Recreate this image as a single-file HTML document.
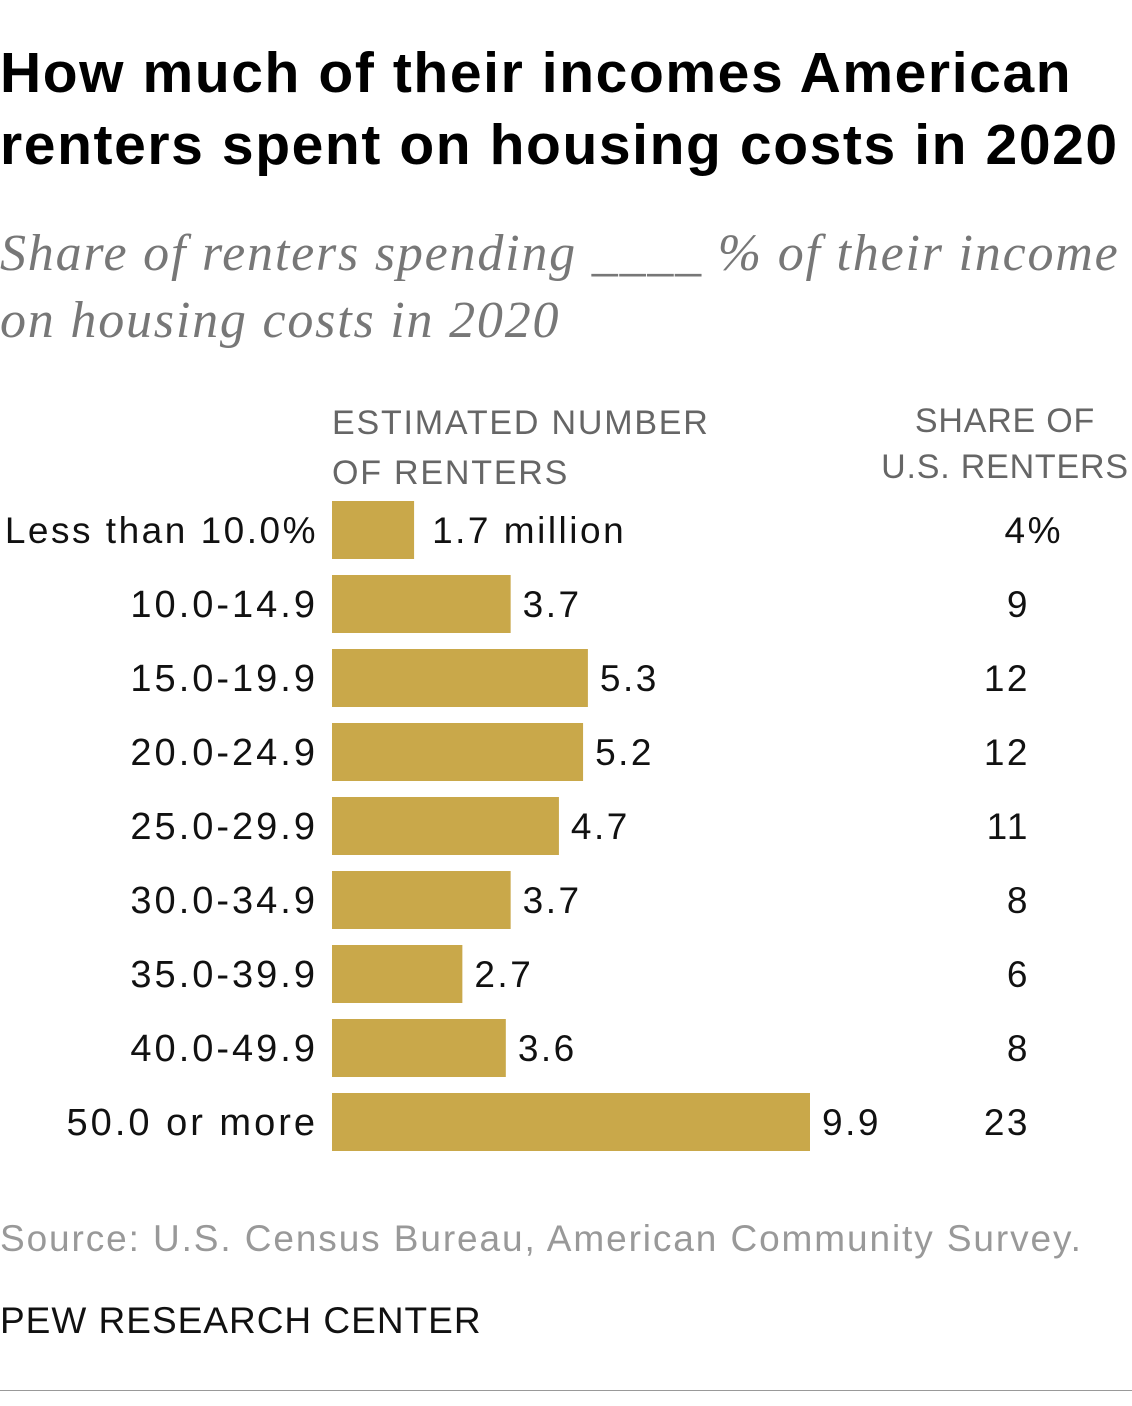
<!DOCTYPE html>
<html><head><meta charset="utf-8">
<style>
html,body{margin:0;padding:0;background:#fff;}
body{width:1132px;height:1406px;position:relative;overflow:hidden;font-family:"Liberation Sans",sans-serif;}
.t{position:absolute;white-space:nowrap;}
</style></head><body>
<div class="t" style="left:0;top:37px;font-size:57px;font-weight:bold;line-height:72px;color:#000;letter-spacing:1.6px;">How much of their incomes American<br>renters spent on housing costs in 2020</div>
<div class="t" style="left:0;top:220px;font-family:'Liberation Serif',serif;font-style:italic;font-size:52px;line-height:67px;color:#777;letter-spacing:1.8px;">Share of renters spending ____ % of their income<br>on housing costs in 2020</div>
<div class="t" style="left:332px;top:398px;font-size:34px;line-height:50px;color:#666;letter-spacing:1.8px;">ESTIMATED NUMBER<br>OF RENTERS</div>
<div class="t" style="left:880px;width:250px;top:398px;font-size:34px;line-height:46px;color:#666;text-align:center;letter-spacing:0.8px;">SHARE OF<br>U.S. RENTERS</div>
<svg id="chart" width="1132" height="1406" style="position:absolute;left:0;top:0;font-family:'Liberation Sans',sans-serif;"></svg>
<div class="t" style="left:0;top:1218px;font-size:37px;color:#999;letter-spacing:1.9px;">Source: U.S. Census Bureau, American Community Survey.</div>
<div class="t" style="left:0;top:1300px;font-size:37px;color:#111;letter-spacing:1px;">PEW RESEARCH CENTER</div>
<div style="position:absolute;left:0;top:1390px;width:1132px;height:1px;background:#999;"></div>
<script>
const categories=["Less than 10.0%","10.0-14.9","15.0-19.9","20.0-24.9","25.0-29.9","30.0-34.9","35.0-39.9","40.0-49.9","50.0 or more"];
const renters=[1.7,3.7,5.3,5.2,4.7,3.7,2.7,3.6,9.9];
const valueLabels=["1.7 million","3.7","5.3","5.2","4.7","3.7","2.7","3.6","9.9"];
const shares=[4,9,12,12,11,8,6,8,23];
const svg=document.getElementById('chart');
const NS="http://www.w3.org/2000/svg";
const x0=332,scale=478/9.9,top0=501,pitch=74,bh=58;
const xScale=v=>v*scale;
const yScale=i=>top0+i*pitch;
function mk(tag,attrs,txt){const e=document.createElementNS(NS,tag);for(const k in attrs)e.setAttribute(k,attrs[k]);if(txt!==undefined)e.textContent=txt;svg.appendChild(e);return e;}
categories.forEach((c,i)=>{
  const y=yScale(i),w=xScale(renters[i]);
  const b=mk('rect',{x:x0,y:y,width:w,height:bh,fill:'#c9a84a'});
  
  
  const num=i>0;
  const l=mk('text',{x:318,y:y+42,'text-anchor':'end','font-size':num?38:37,fill:'#111','letter-spacing':num?3:2.5},c);
  
  
  const v=mk('text',{x:x0+w+(i==0?18:12),y:y+42,'font-size':37,fill:'#111','letter-spacing':2.5},valueLabels[i]);
  
  
  const s=mk('text',{x:1030,y:y+42,'text-anchor':'end','font-size':37,fill:'#111','letter-spacing':2.5},shares[i]);
  if(i==0){s.textContent=shares[i]+'%';s.setAttribute('x',1063);}
  
  
});
</script>
</body></html>
